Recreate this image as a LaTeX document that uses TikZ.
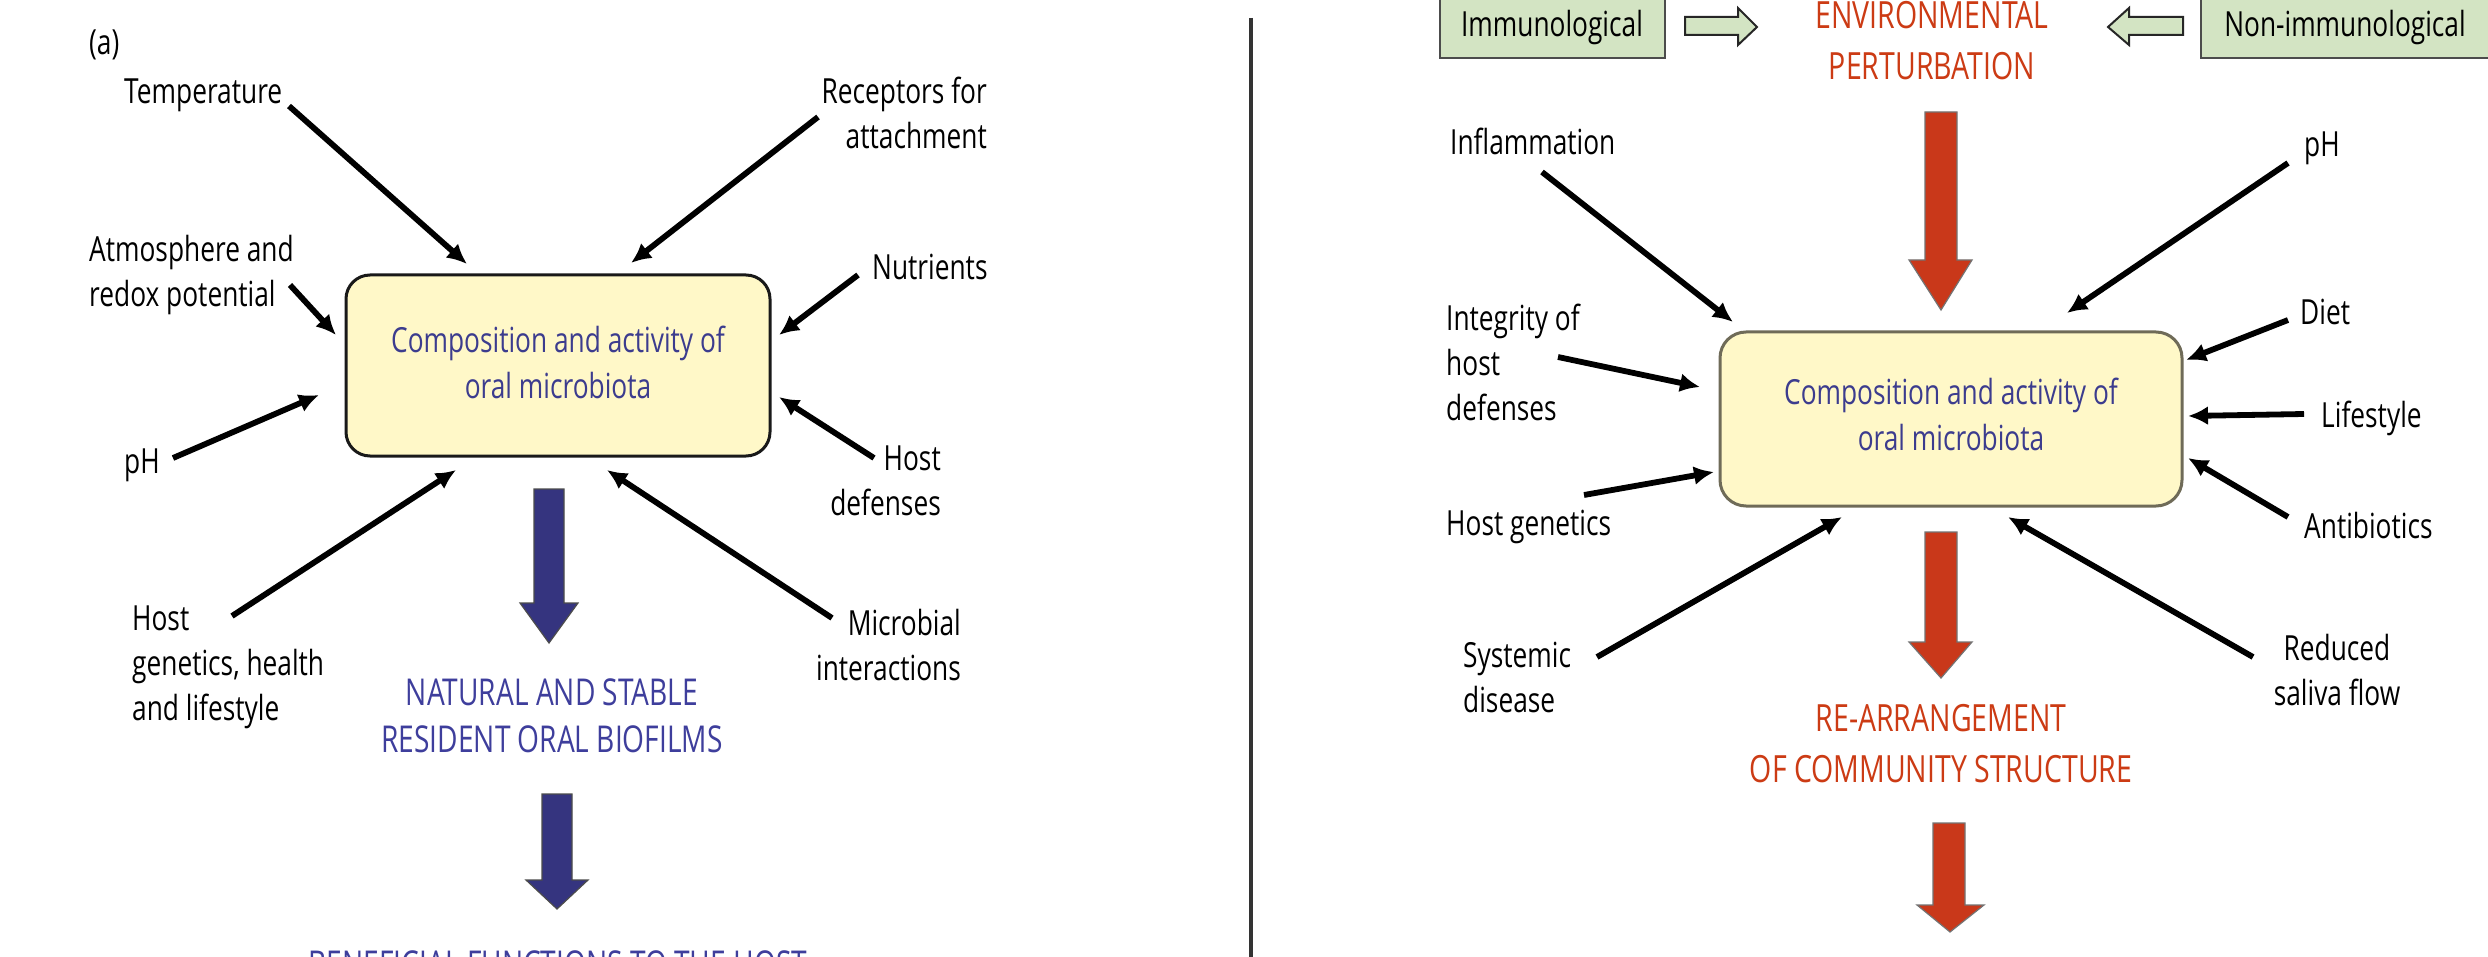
\documentclass[tikz,border=0pt]{standalone}
\usepackage{fontspec}
\setmainfont{Open Sans}[FakeStretch=0.76]
\usetikzlibrary{arrows.meta}
\definecolor{boxfill}{HTML}{FFF8C8}
\definecolor{navytext}{HTML}{3C3C8E}
\definecolor{headblue}{HTML}{3E3E9C}
\definecolor{blockblue}{HTML}{35347F}
\definecolor{redtext}{HTML}{CC3B14}
\definecolor{blockred}{HTML}{C9381A}
\definecolor{greenfill}{HTML}{D3E4C3}
\definecolor{olivegray}{HTML}{6F6B58}
\tikzset{
  lbl/.style={inner sep=0pt, font=\fontsize{34.6}{45}\selectfont, text=black},
  boxtext/.style={inner sep=0pt, font=\fontsize{34.6}{46}\selectfont, text=navytext, align=center},
  headb/.style={inner sep=0pt, font=\fontsize{37}{47}\selectfont, text=headblue, align=center},
  headr/.style={inner sep=0pt, font=\fontsize{37.5}{51}\selectfont, text=redtext, align=center},
  conn/.style={line width=5.8pt, -{Latex[length=20pt,width=19pt]}},
  bluearrow/.style={fill=blockblue, draw=black!70, line width=1.2pt},
  redarrow/.style={fill=blockred, draw=black!55, line width=1.2pt},
  hollow/.style={fill=greenfill, draw=black!85, line width=2pt},
  greenbox/.style={fill=greenfill, draw=black!70, line width=2.5pt},
}
\begin{document}
\begin{tikzpicture}[x=1pt,y=-1pt]
\clip (0,0) rectangle (2488,957);
\fill[white] (0,0) rectangle (2488,957);

% ---------------- divider ----------------
\draw[line width=4pt, black!80] (1251,18) -- (1251,960);

% ---------------- LEFT PANEL ----------------
% (multi-line nodes are anchored at the baseline of their last line)
\node[lbl, anchor=base west] (lbla) at (89,55) {(a)};
\draw[draw=black!90, line width=3pt, fill=boxfill, rounded corners=24pt] (346,275) rectangle (770,456);
\node (boxL) at (558,365) {};
\node[boxtext, anchor=base] (boxLt) at (558,398) {Composition and activity of\\oral microbiota};

\node[lbl, anchor=base west] (temp) at (124,104) {Temperature};
\node[lbl, anchor=base east, align=right] (recep) at (987,149) {Receptors for\\attachment};
\node[lbl, anchor=base west, align=left] (atmo) at (89,307) {Atmosphere and\\redox potential};
\node[lbl, anchor=base west] (nutr) at (872,280) {Nutrients};
\node[lbl, anchor=base west] (phL) at (124,473) {pH};
\node[lbl, anchor=base east, align=right] (hdef) at (941,515) {Host\\defenses};
\node[lbl, anchor=base west, align=left] (hgen) at (132,720) {Host\\genetics, health\\and lifestyle};
\node[lbl, anchor=base east, align=right] (micro) at (961,680) {Microbial\\interactions};

\coordinate (tS) at (289,106);  \coordinate (tE) at (467,264);
\coordinate (rS) at (818,117);  \coordinate (rE) at (631,263);
\coordinate (aS) at (290,285);  \coordinate (aE) at (336,335);
\coordinate (nS) at (858,275);  \coordinate (nE) at (779,335);
\coordinate (pS) at (173,458);  \coordinate (pE) at (319,395);
\coordinate (dS) at (874,458);  \coordinate (dE) at (779,397);
\coordinate (gS) at (232,616);  \coordinate (gE) at (456,470);
\coordinate (mS) at (832,618);  \coordinate (mE) at (607,470);
\draw[conn] (tS) -- (tE);
\draw[conn] (rS) -- (rE);
\draw[conn] (aS) -- (aE);
\draw[conn] (nS) -- (nE);
\draw[conn] (pS) -- (pE);
\draw[conn] (dS) -- (dE);
\draw[conn] (gS) -- (gE);
\draw[conn] (mS) -- (mE);

% blue block arrows
\draw[bluearrow] (534,489) -- (564,489) -- (564,603) -- (578,603) -- (549,643) -- (520,603) -- (534,603) -- cycle;
\node[headb, anchor=base] (natural) at (552,752) {NATURAL AND STABLE\\RESIDENT ORAL BIOFILMS};
\draw[bluearrow] (542,794) -- (572,794) -- (572,880) -- (588,880) -- (557,909) -- (526,880) -- (542,880) -- cycle;
\node[headb, anchor=base] (benef) at (558,977) {BENEFICIAL FUNCTIONS TO THE HOST};

% ---------------- RIGHT PANEL ----------------
\draw[greenbox] (1440,-10) rectangle (1665,58);
\node[lbl, anchor=base] (immu) at (1552,37) {Immunological};
\draw[greenbox] (2201,-10) rectangle (2500,58);
\node[lbl, anchor=base] (nonimmu) at (2345,37) {Non-immunological};
\draw[hollow] (1685,17) -- (1738,17) -- (1738,8) -- (1757,27) -- (1738,45) -- (1738,35) -- (1685,35) -- cycle;
\draw[hollow] (2183,17) -- (2129,17) -- (2129,8) -- (2108,27) -- (2129,45) -- (2129,35) -- (2183,35) -- cycle;
\node[headr, anchor=base] (env) at (1932,80) {ENVIRONMENTAL\\PERTURBATION};

\draw[redarrow] (1925,112) -- (1957,112) -- (1957,260) -- (1972,260) -- (1941,310) -- (1909,260) -- (1925,260) -- cycle;

\draw[draw=olivegray, line width=3pt, fill=boxfill, rounded corners=26pt] (1720,332) rectangle (2182,506);
\node (boxR) at (1951,419) {};
\node[boxtext, anchor=base] (boxRt) at (1951,450) {Composition and activity of\\oral microbiota};

\node[lbl, anchor=base west] (infl) at (1450,155) {Inflammation};
\node[lbl, anchor=base west] (phR) at (2304,157) {pH};
\node[lbl, anchor=base west, align=left] (integ) at (1446,420) {Integrity of\\host\\defenses};
\node[lbl, anchor=base west] (hgenR) at (1446,535) {Host genetics};
\node[lbl, anchor=base west] (diet) at (2300,325) {Diet};
\node[lbl, anchor=base west] (life) at (2321,427) {Lifestyle};
\node[lbl, anchor=base west] (anti) at (2304,538) {Antibiotics};
\node[lbl, anchor=base west, align=left] (syst) at (1463,712) {Systemic\\disease};
\node[lbl, anchor=base, align=center] (redu) at (2337,705) {Reduced\\saliva flow};

\coordinate (iS) at (1542,172); \coordinate (iE) at (1733,322);
\coordinate (qS) at (2288,163); \coordinate (qE) at (2067,313);
\coordinate (jS) at (1558,357); \coordinate (jE) at (1700,387);
\coordinate (hS) at (1584,495); \coordinate (hE) at (1714,472);
\coordinate (eS) at (2288,320); \coordinate (eE) at (2186,360);
\coordinate (lS) at (2304,414); \coordinate (lE) at (2188,416);
\coordinate (bS) at (2288,517); \coordinate (bE) at (2188,458);
\coordinate (sS) at (1597,657); \coordinate (sE) at (1842,517);
\coordinate (wS) at (2253,657); \coordinate (wE) at (2008,517);
\draw[conn] (iS) -- (iE);
\draw[conn] (qS) -- (qE);
\draw[conn] (jS) -- (jE);
\draw[conn] (hS) -- (hE);
\draw[conn] (eS) -- (eE);
\draw[conn] (lS) -- (lE);
\draw[conn] (bS) -- (bE);
\draw[conn] (sS) -- (sE);
\draw[conn] (wS) -- (wE);

\draw[redarrow] (1925,532) -- (1957,532) -- (1957,642) -- (1972,642) -- (1941,678) -- (1909,642) -- (1925,642) -- cycle;
\node[headr, anchor=base] (rearr) at (1941,782) {RE-ARRANGEMENT\\OF COMMUNITY STRUCTURE};
\draw[redarrow] (1933,823) -- (1965,823) -- (1965,905) -- (1984,905) -- (1950,932) -- (1917,905) -- (1933,905) -- cycle;
\end{tikzpicture}
\end{document}
